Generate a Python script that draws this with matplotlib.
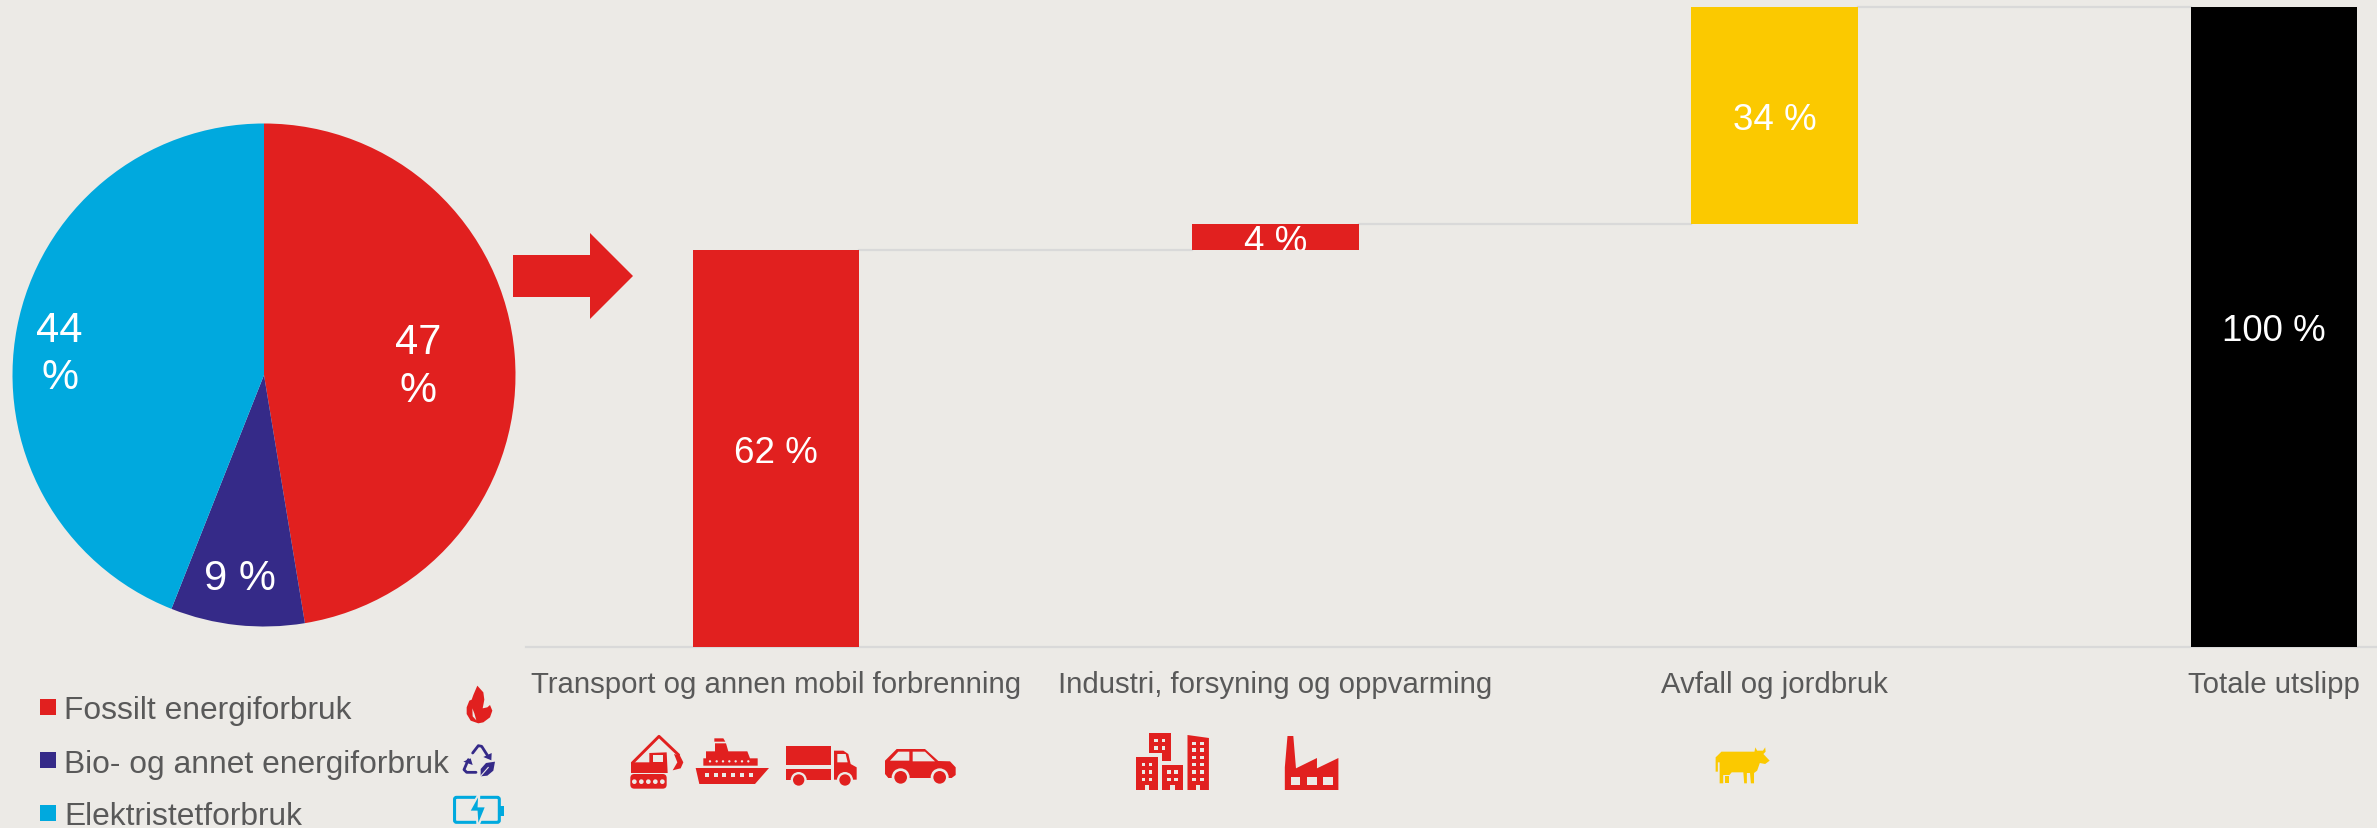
import numpy as np
import matplotlib
matplotlib.use("Agg")
import matplotlib.pyplot as plt
from matplotlib.patches import Polygon, Rectangle, Circle, FancyBboxPatch

plt.rcParams['font.family'] = ['Liberation Sans', 'DejaVu Sans']

W, H = 2377, 829
BG = "#ECEAE6"
RED = "#E1201F"
NAVY = "#352A88"
CYAN = "#00A9DE"
YELLOW = "#FBC900"
TEXT = "#595959"
GRID = "#D9D9D9"

# kakediagram
pie_names = ["Fossilt energiforbruk", "Bio- og annet energiforbruk", "Elektristetforbruk"]
pie_values = [47.4, 8.6, 44]
pie_labels = ["47\n%", "9 %", "44\n%"]
pie_colors = [RED, NAVY, CYAN]

# fossefall
bar_names = ["Transport og annen mobil forbrenning", "Industri, forsyning og oppvarming",
             "Avfall og jordbruk", "Totale utslipp"]
bar_values = [62, 4, 34, 100]
bar_bottoms = [0, 62, 66, 0]
bar_colors = [RED, RED, YELLOW, "#000000"]
bar_labels = ["62 %", "4 %", "34 %", "100 %"]

fig = plt.figure(figsize=(W / 100, H / 100), dpi=100, facecolor=BG)


def px_axes(left, top, right, bottom):
    return fig.add_axes([left / W, 1 - bottom / H, (right - left) / W, (bottom - top) / H])


# --- pie
ax_pie = px_axes(12.5, 124.5, 515.5, 627.5)
wedges, _ = ax_pie.pie(pie_values, colors=pie_colors, startangle=90, counterclock=False, radius=1)
ax_pie.set_xlim(-1, 1)
ax_pie.set_ylim(-1, 1)
# labels sit where the original put them, not on the wedge middle
label_pos = [(0.614, 0.036), (-0.096, -0.807), (-0.813, 0.084)]
for (lx, ly), lab in zip(label_pos, pie_labels):
    ax_pie.text(lx, ly, lab, color="white", fontsize=30, ha="center", va="center", linespacing=1.23)

# --- waterfall
ax = px_axes(526, 0, 2377, 647.5)
ax.set_facecolor("none")
x = np.arange(len(bar_values))
bars = ax.bar(x, bar_values, bottom=bar_bottoms, width=1 / 3, color=bar_colors, zorder=3)
ax.set_xlim(-0.5007, 3.2065)
ax.set_ylim(0, 101.25)
for i in range(len(x) - 1):
    level = bar_bottoms[i] + bar_values[i]
    ax.plot([x[i] + 1 / 6, x[i + 1] - 1 / 6], [level, level], color=GRID, lw=1.6, zorder=2)
for b, lab in zip(bars, bar_labels):
    t = ax.annotate(lab, (b.get_x() + b.get_width() / 2, b.get_y() + b.get_height() / 2),
                    xytext=(0, -3), textcoords="offset points", color="white", fontsize=26.5,
                    ha="center", va="center", zorder=4)
    t.set_clip_path(b)
ax.set_xticks(x)
ax.set_xticklabels(bar_names, fontsize=21.2, color=TEXT)
ax.tick_params(axis="x", length=0, pad=17)
ax.set_yticks([])
for s in ["top", "left", "right"]:
    ax.spines[s].set_visible(False)
ax.spines["bottom"].set_color(GRID)
ax.spines["bottom"].set_linewidth(1.6)

# --- overlay in pixels: arrow, legend and icons
ov = fig.add_axes([0, 0, 1, 1], facecolor="none")
ov.set_xlim(0, W)
ov.set_ylim(H, 0)
ov.axis("off")


def poly(pts, color=RED, **kw):
    ov.add_patch(Polygon(pts, closed=True, facecolor=color, edgecolor="none", **kw))


def line(pts, color, lw=2.0):
    xs, ys = zip(*pts)
    ov.plot(xs, ys, color=color, lw=lw, solid_joinstyle="round", solid_capstyle="round")


# arrow
poly([(513, 256), (590, 256), (590, 234), (633, 277), (590, 320), (590, 298), (513, 298)])

# legend
for i, (name, col) in enumerate(zip(pie_names, pie_colors)):
    y = 708 + 53 * i
    ov.add_patch(Rectangle((40, y - 8), 16, 16, facecolor=col, edgecolor="none"))
    ov.text(64, y, name, color=TEXT, fontsize=22.9, ha="left", va="center_baseline")


def z1(pts):
    return [(x / 2.904, 620 + y / 3) for x, y in pts]


def z2(pts):
    return [(600 + x / 3, 700 + y / 3) for x, y in pts]


def z3(pts):
    return [(1100 + x / 2.24, 700 + y / 3) for x, y in pts]


def zf(pts):
    return [(450 + x / 3, 680 + y / 3) for x, y in pts]


def zr(pts):
    return [(450 + x / 3, 740 + y / 3) for x, y in pts]


def box(f, x0, y0, x1, y1):
    return f([(x0, y0), (x1, y0), (x1, y1), (x0, y1)])


def circ(x, y, r, color=RED):
    p = z2([(x, y)])[0]
    ov.add_patch(Circle(p, r / 3, facecolor=color, edgecolor="none"))


# flame
poly(zf([(82, 20), (100, 40), (103, 62), (98, 88), (112, 85), (120, 78), (127, 95), (120, 115), (100, 130),
         (85, 133), (62, 125), (50, 105), (50, 85), (58, 65), (65, 62), (70, 48)]))
poly(zf([(67, 88), (73, 103), (79, 124), (68, 112)]), BG)

# recycle
line(zr([(68, 42), (85, 20), (95, 22), (116, 55)]), NAVY)
poly(zr([(100, 54), (125, 42), (124, 64)]), NAVY)
line(zr([(55, 62), (42, 92), (50, 100), (78, 100)]), NAVY)
poly(zr([(40, 68), (62, 58), (68, 78)]), NAVY)
poly(zr([(92, 90), (108, 72), (135, 68), (130, 95), (112, 110), (92, 112)]), NAVY)
line(zr([(88, 116), (115, 85)]), BG, lw=0.8)

# battery
b0, b1 = z1([(1320, 535)])[0], z1([(1450, 610)])[0]
ov.add_patch(FancyBboxPatch(b0, b1[0] - b0[0], b1[1] - b0[1], boxstyle="round,pad=0,rounding_size=2",
                            facecolor="none", edgecolor=CYAN, lw=2.2))
poly(box(z1, 1452, 560, 1463, 590), CYAN)
ov.add_patch(Polygon(z1([(1392, 522), (1362, 578), (1384, 578), (1387, 625), (1412, 562), (1390, 562)]),
                     closed=True, facecolor=CYAN, edgecolor=BG, lw=1.5))

# excavator
line(z2([(97, 192), (177, 112), (236, 168)]), RED, lw=2.1)
poly(z2([(93, 190), (148, 190), (148, 162), (200, 160), (203, 222), (93, 222)]))
poly(box(z2, 158, 168, 190, 190), BG)
poly(z2([(222, 165), (240, 170), (250, 190), (242, 208), (218, 214), (232, 190)]))
ov.add_patch(FancyBboxPatch(z2([(100, 234)])[0], 91 / 3, 26 / 3, boxstyle="round,pad=3,rounding_size=4",
                            facecolor=RED, edgecolor="none"))
for cx in [103, 124, 145, 166, 187]:
    circ(cx, 248, 7, BG)

# ship
poly(z2([(287, 207), (507, 207), (465, 255), (298, 255)]))
poly(z2([(310, 200), (473, 200), (473, 178), (450, 178), (442, 157), (385, 157), (378, 133), (345, 133),
         (345, 157), (318, 157), (318, 178), (310, 178)]))
poly(z2([(343, 118), (370, 118), (376, 128), (343, 128)]))
for cx in [320, 347, 373, 400, 427, 453]:
    poly(box(z2, cx - 6, 222, cx + 6, 234), BG)
for cx in [330, 350, 369, 388, 407, 426, 445]:
    circ(cx, 187, 3.5, BG)

# truck
poly(box(z2, 557, 140, 693, 198))
poly(box(z2, 557, 210, 693, 242))
poly(z2([(702, 155), (730, 155), (745, 165), (752, 195), (770, 205), (770, 242), (702, 242)]))
poly(z2([(712, 165), (737, 165), (743, 190), (712, 190)]), BG)
for cx in [596, 735]:
    circ(cx, 243, 24, BG)
    circ(cx, 243, 17)

# car
poly(z2([(855, 185), (890, 150), (975, 150), (1015, 186), (1050, 187), (1067, 205), (1067, 228),
         (1055, 237), (865, 237), (855, 225)]))
poly(z2([(870, 185), (895, 158), (928, 158), (928, 185)]), BG)
poly(z2([(938, 158), (975, 158), (1005, 187), (938, 187)]), BG)
for cx in [902, 1019]:
    circ(cx, 235, 27, BG)
poly(box(z2, 860, 238, 1065, 262), BG)
for cx in [902, 1019]:
    circ(cx, 235, 19)

# buildings
blocks = [(81, 175, 130, 273, [97, 113], [197, 219, 241]),
          (138, 197, 187, 273, [154, 170], [219, 241])]
for x0, y0, x1, y1, wx, wy in blocks:
    poly(box(z3, x0, y0, x1, y1))
    poly(box(z3, (x0 + x1) / 2 - 5, 257, (x0 + x1) / 2 + 5, 274), BG)
    for a in wx:
        for b in wy:
            poly(box(z3, a - 4, b - 5, a + 4, b + 5), BG)
poly(z3([(196, 108), (244, 117), (244, 273), (196, 273)]))
poly(box(z3, 215, 257, 225, 274), BG)
for a in [211, 228]:
    for b in [133, 153, 175, 197, 219, 241]:
        poly(box(z3, a - 4, b - 5, a + 4, b + 5), BG)
poly(z3([(110, 103), (158, 103), (158, 185), (138, 185), (138, 163), (110, 163)]))
for a in [125, 142]:
    for b in [125, 147]:
        poly(box(z3, a - 4, b - 5, a + 4, b + 5), BG)

# factory
poly(z3([(414, 273), (414, 205), (420, 111), (433, 111), (439, 208), (486, 177), (486, 208), (534, 177),
         (534, 273)]))
for a in [428, 464, 500]:
    poly(box(z3, a, 235, a + 21, 257), BG)

# cow
poly(z3([(1383, 170), (1392, 158), (1466, 158), (1468, 145), (1472, 155), (1485, 155), (1490, 145),
         (1491, 158), (1486, 165), (1500, 185), (1490, 195), (1478, 192), (1472, 215), (1465, 222),
         (1465, 253), (1458, 253), (1456, 222), (1449, 222), (1449, 253), (1443, 253), (1441, 220),
         (1415, 220), (1410, 228), (1396, 228), (1396, 253), (1388, 253), (1388, 190), (1384, 190),
         (1384, 218), (1379, 218), (1379, 175)]), YELLOW)
poly(box(z3, 1400, 232, 1408, 253), YELLOW)

plt.savefig("out.png", dpi=100, facecolor=BG)
